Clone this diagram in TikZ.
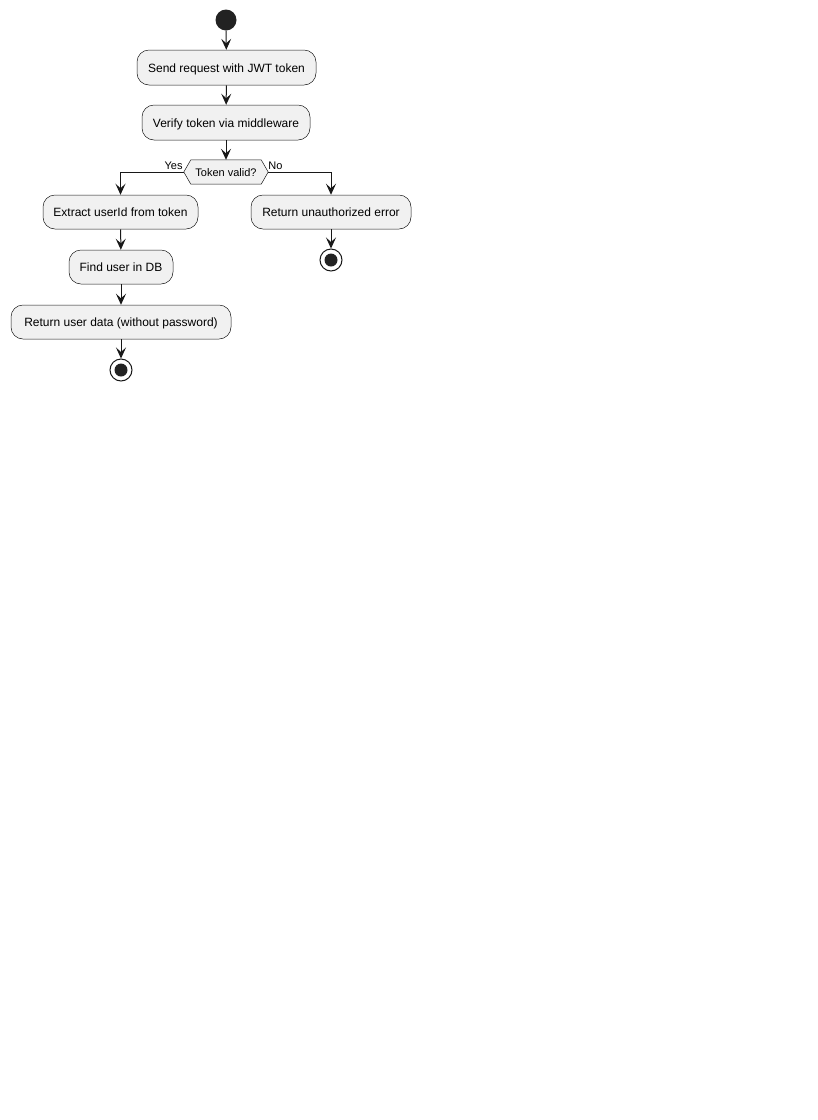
\documentclass[tikz,border=0pt]{standalone}
\usepackage{fontspec}
\setmainfont{Liberation Sans}
\usetikzlibrary{arrows.meta}
\definecolor{ln}{HTML}{181818}
\definecolor{bx}{HTML}{F1F1F1}
\definecolor{dot}{HTML}{222222}
\begin{document}
\begin{tikzpicture}[x=1pt,y=-1pt,
  act/.style={draw=ln,fill=bx,line width=0.5pt,rounded corners=12pt,minimum height=35pt,inner sep=0pt,text height=10pt,text depth=1pt,font=\fontsize{12}{14}\selectfont},
  flow/.style={draw=ln,line width=1pt,-{Stealth[length=11pt,width=10pt,inset=4.5pt]}},
  lbl/.style={font=\fontsize{11}{13}\selectfont,inner sep=0pt}]
\useasboundingbox (0,0) rectangle (818,1120);
\node[circle,fill=dot,minimum size=21pt,inner sep=0pt] (start) at (226,20) {};
\node[act,minimum width=179pt] (b1) at (226.5,67.5) {Send request with JWT token};
\node[act,minimum width=168pt] (b2) at (226,122.5) {Verify token via middleware};
\node[inner sep=0pt,minimum width=84pt,minimum height=24pt] (dec) at (226,172) {};
\draw[draw=ln,fill=bx,line width=0.5pt] (dec.west) -- ([xshift=7pt]dec.north west) -- ([xshift=-7pt]dec.north east) -- (dec.east) -- ([xshift=-7pt]dec.south east) -- ([xshift=7pt]dec.south west) -- cycle;
\node[inner sep=0pt,text height=9pt,text depth=1pt,font=\fontsize{11}{13}\selectfont] (dectxt) at (dec) {Token valid?};
\node[act,minimum width=155pt,minimum height=34pt] (b3) at (120.5,212) {Extract userId from token};
\node[act,minimum width=160pt,minimum height=34pt] (b4) at (331,212) {Return unauthorized error};
\node[act,minimum width=104pt,minimum height=34pt] (b5) at (121,267) {Find user in DB};
\node[act,minimum width=220pt,minimum height=34pt] (b6) at (121,322) {Return user data (without password)};
\node[circle,draw=ln,line width=1pt,fill=white,minimum size=22pt,inner sep=0pt] (e2) at (331,260) {};
\fill[dot] (e2) circle (6.5pt);
\node[circle,draw=ln,line width=1pt,fill=white,minimum size=22pt,inner sep=0pt] (e1) at (121,370) {};
\fill[dot] (e1) circle (6.5pt);
\node[lbl,anchor=south east] (yes) at ([xshift=-1pt,yshift=2pt]dec.west) {Yes};
\node[lbl,anchor=south west] (no) at ([xshift=0pt,yshift=2pt]dec.east) {No};
\draw[flow] (start) -- (b1);
\draw[flow] (b1) -- (b2);
\draw[flow] (b2) -- (dec.north);
\draw[flow] (dec.west) -| (b3.north);
\draw[flow] (dec.east) -| (b4.north);
\draw[flow] (b3) -- (b5);
\draw[flow] (b5) -- (b6);
\draw[flow] (b6) -- (e1);
\draw[flow] (b4) -- (e2);
\end{tikzpicture}
\end{document}
